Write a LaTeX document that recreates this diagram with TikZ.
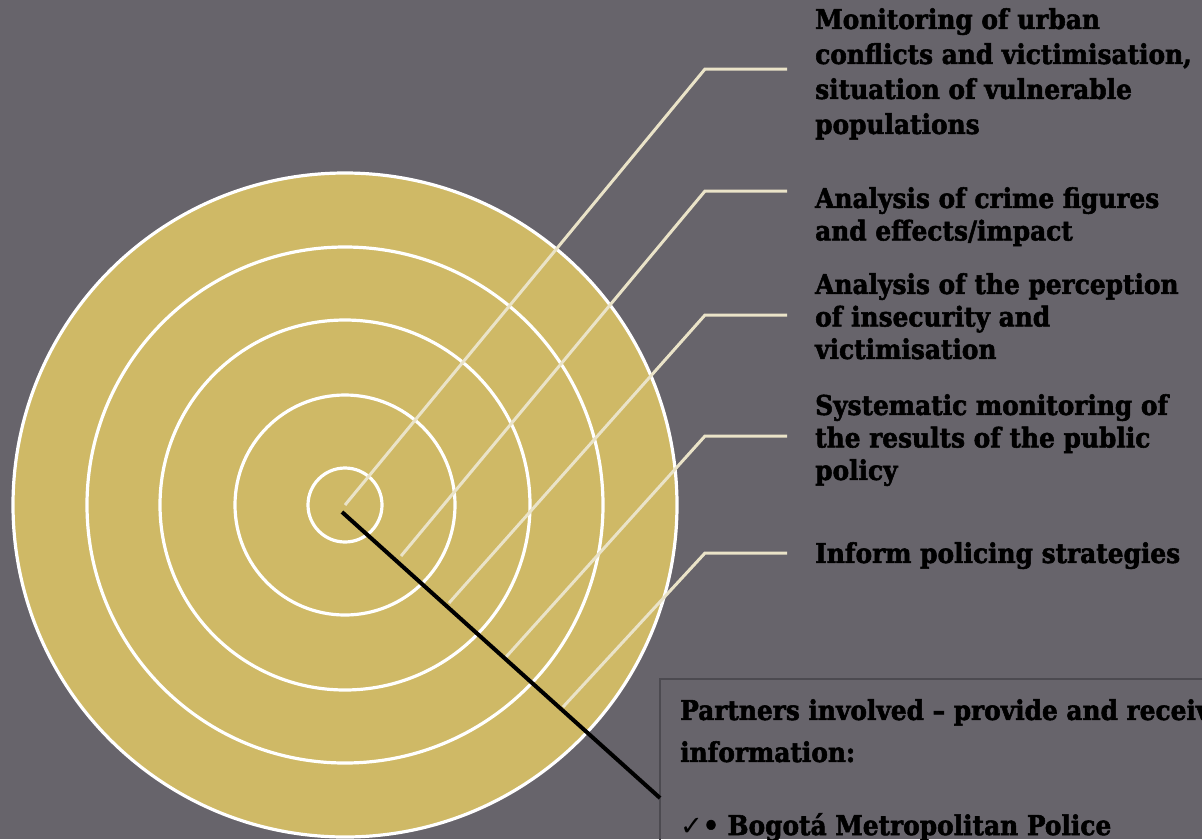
\documentclass[tikz,border=0pt]{standalone}
\usepackage{fontspec}
\setmainfont{DejaVu Serif}[FakeStretch=0.91,BoldFeatures={FakeBold=2}]
\newfontfamily\symfont{DejaVu Sans}
\definecolor{bgc}{HTML}{67646B}
\definecolor{tan}{HTML}{CFB966}
\definecolor{cream}{HTML}{EAE3C8}
\definecolor{boxline}{HTML}{4C4A50}
\tikzset{
  ring/.style={draw=white,line width=3.2pt},
  leader/.style={draw=cream,line width=3pt},
  pointer/.style={draw=black,line width=4pt},
  label/.style={anchor=north west,inner sep=0pt,align=left,text=black,font=\bfseries\fontsize{27.3}{32.5}\selectfont},
  partnerbox/.style={draw=boxline,line width=1.5pt,fill=none}
}
\begin{document}
\begin{tikzpicture}[x=1pt,y=-1pt]
\useasboundingbox (0,0) rectangle (1202,839);
\clip (0,0) rectangle (1202,839);
\fill[bgc] (0,0) rectangle (1202,839);
% target
\coordinate (c) at (345,505);
\fill[tan] (c) circle[radius=332];
\foreach \r in {332,258,185,110,37} \draw[ring] (c) circle[radius=\r];
% anchor points in the rings
\coordinate (p1) at (345,505);
\coordinate (p2) at (401,556);
\coordinate (p3) at (449,603);
\coordinate (p4) at (506,657);
\coordinate (p5) at (563,707);
\coordinate (k1) at (705,69);
\coordinate (k2) at (705,191);
\coordinate (k3) at (705,315);
\coordinate (k4) at (705,436);
\coordinate (k5) at (705,553);
\coordinate (e1) at (787,69);
\coordinate (e2) at (787,191);
\coordinate (e3) at (787,315);
\coordinate (e4) at (787,436);
\coordinate (e5) at (787,553);
\foreach \i in {1,...,5} \draw[leader,line join=miter] (p\i) -- (k\i) -- (e\i);
% labels
\node[label,font=\bfseries\fontsize{27.3}{35}\selectfont] (t1) at (815,8) {Monitoring of urban\\conflicts and victimisation,\\situation of vulnerable\\populations};
\node[label] (t2) at (815,187) {Analysis of crime figures\\and effects/impact};
\node[label] (t3) at (815,273) {Analysis of the perception\\of insecurity and\\victimisation};
\node[label] (t4) at (815,394) {Systematic monitoring of\\the results of the public\\policy};
\node[label] (t5) at (815,542) {Inform policing strategies};
% partners box
\draw[partnerbox] (660,679) rectangle (1215,850);
\coordinate (bx) at (660,798);
\coordinate (q) at (342,512);
\draw[pointer] (q) -- (bx);
\node[label,font=\bfseries\fontsize{27.3}{42}\selectfont] (pt) at (680,699) {Partners involved – provide and receive\\information:};
\node[label] (pb) at (680,813) {{\mdseries\symfont ✓}• Bogotá Metropolitan Police};
\end{tikzpicture}
\end{document}
